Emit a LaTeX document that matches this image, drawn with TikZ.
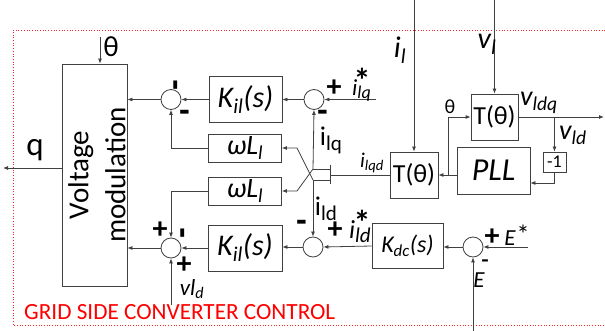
\documentclass[tikz,border=0pt]{standalone}
\usepackage{fontspec}
\setmainfont{Carlito}
\usetikzlibrary{arrows.meta}
\definecolor{lc}{HTML}{404040}
\newcommand{\bigsub}[2]{#1{\fontsize{21}{23}\selectfont\raisebox{-5pt}{#2}}}
\newcommand{\subsz}[4]{#1{\fontsize{#3}{#3}\selectfont\raisebox{-#4}{#2}}}
\newcommand{\msign}{\scalebox{0.72}[1.4]{−}}
\begin{document}
\begin{tikzpicture}[x=1pt,y=-1pt,
  blk/.style={draw=lc, line width=0.8pt, inner sep=0pt},
  sumc/.style={circle, draw=lc, line width=0.8pt, minimum size=20pt, inner sep=0pt},
  arr/.style={draw=lc, line width=0.8pt, -{Latex[length=5pt,width=4pt]}},
  ln/.style={draw=lc, line width=0.8pt},
  lbl/.style={inner sep=0pt, font=\fontsize{23}{25}\selectfont},
  sml/.style={inner sep=0pt, font=\fontsize{21}{23}\selectfont},
  sgn/.style={inner sep=0pt, font=\fontsize{30}{32}\selectfont\bfseries},
  vsgn/.style={sgn, rotate=90},
  ast/.style={inner sep=0pt, font=\fontsize{34}{36}\selectfont\bfseries},
]
\useasboundingbox (0,0) rectangle (605,331);
% frame
\draw[red!85!white, dotted, line width=0.7pt] (605,30) -- (13,30) -- (13,325) -- (605,325);
\node[anchor=west, inner sep=0pt, text=red, font=\fontsize{23.2}{25}\selectfont] (title) at (24,312) {GRID SIDE CONVERTER CONTROL};

% blocks
\node[blk, minimum width=65pt, minimum height=222pt] (vm) at (94.5,175) {};
\node[rotate=90, align=center, inner sep=0pt, font=\fontsize{29}{37}\selectfont] (vmt) at (97,175) {Voltage\\modulation};
\node[sumc] (s1) at (171,99.5) {};
\node[blk, minimum width=73pt, minimum height=46pt, font=\fontsize{30}{32}\selectfont] (k1) at (245.5,99.5) {\textit{K\textsubscript{il}(s)}};
\node[sumc] (s2) at (314,99.5) {};
\node[blk, minimum width=73pt, minimum height=28pt, font=\fontsize{28}{30}\selectfont] (w1) at (245,148) {\textit{ωL\textsubscript{l}}};
\node[blk, minimum width=73pt, minimum height=28pt, font=\fontsize{28}{30}\selectfont] (w2) at (245,191) {\textit{ωL\textsubscript{l}}};
\node[sumc] (s3) at (171,248) {};
\node[blk, minimum width=74pt, minimum height=46pt, font=\fontsize{30}{32}\selectfont] (k2) at (245,248) {\textit{K\textsubscript{il}(s)}};
\node[sumc] (s4) at (313,247) {};
\node[blk, minimum width=71pt, minimum height=45pt, font=\fontsize{24}{26}\selectfont] (kdc) at (407.5,246) {\textit{K\textsubscript{dc}(s)}};
\node[sumc] (s5) at (473,247) {};
\node[blk, minimum width=48pt, minimum height=46pt, font=\fontsize{26}{28}\selectfont] (t1) at (414,175) {T(θ)};
\node[blk, minimum width=47pt, minimum height=46pt, font=\fontsize{26}{28}\selectfont] (t2) at (494.5,117) {T(θ)};
\node[blk, minimum width=73pt, minimum height=47pt, font=\fontsize{32}{34}\selectfont] (pll) at (493.5,170.5) {\textit{PLL}};
\node[blk, minimum width=23pt, minimum height=20pt, font=\fontsize{18}{20}\selectfont] (m1) at (554.5,162) {-1};

% free ends and bends
\coordinate (th) at (100,37);
\coordinate (qo) at (3,168);
\coordinate (iqs) at (376,99.5);
\coordinate (vld) at (171,305);
\coordinate (es) at (528,247);
\coordinate (eb) at (473,331);
\coordinate (il) at (414,0);
\coordinate (vl) at (494.5,0);
\coordinate (vout) at (604,117);
\coordinate (br) at (554.5,117);
\coordinate (pc) at (554.5,183);
\coordinate (tb) at (448,175);
\coordinate (sq) at (313,169);
\coordinate (sd) at (313,180);
\coordinate (sqe) at (330,169);
\coordinate (sde) at (330,180);
\coordinate (bt) at (330,165);
\coordinate (bb) at (330,184);
\coordinate (bm) at (330,175);
\coordinate (d1) at (297,148);
\coordinate (d2) at (297,191);

% connectors
\draw[arr] (th) -- (th |- vm.north);
\draw[arr] (vm.west |- qo) -- (qo);
\draw[arr] (s1.west) -- (vm.east |- s1.west);
\draw[arr] (k1.west) -- (s1.east);
\draw[arr] (s2.west) -- (k1.east);
\draw[arr] (iqs) -- (s2.east);
\draw[arr] (w1.west) -| (s1.south);
\draw[arr] (w2.west) -| (s3.north);
\draw[arr] (k2.west) -- (s3.east);
\draw[arr] (s3.west) -- (vm.east |- s3.west);
\draw[arr] (vld) -- (s3.south);
\draw[arr] (s4.west) -- (k2.east |- s4.west);
\draw[arr] (kdc.west) -- (s4.east);
\draw[arr] (s5.west) -- (kdc.east |- s5.west);
\draw[arr] (es) -- (s5.east);
\draw[arr] (eb) -- (s5.south);
\draw[arr] (sq) -- (s2.south);
\draw[arr] (sd) -- (s4.north);
\draw[ln] (sq) -- (sqe);
\draw[ln] (sd) -- (sde);
\draw[ln] (bt) -- (bb);
\draw[ln] (bm) -- (t1.west);
\draw[arr] (sd) -- (d1) -- (w1.east);
\draw[arr] (sq) -- (d2) -- (w2.east);
\draw[arr] (il) -- (t1.north);
\draw[arr] (vl) -- (t2.north);
\draw[arr] (t2.east) -- (vout);
\draw[arr] (br) -- (m1.north);
\draw[arr] (m1.south) -- (pc) -- (pc -| pll.east);
\draw[arr] (pll.west |- t1.east) -- (t1.east);
\draw[arr] (tb) |- (t2.west);

% labels
\node[inner sep=0pt, font=\fontsize{29}{31}\selectfont] (lth) at (111,47) {θ};
\node[inner sep=0pt, font=\fontsize{33}{35}\selectfont] (lq) at (35,150) {q};
\node[vsgn] (g1) at (181,85) {\msign};
\node[sgn] (g2) at (185,118) {\msign};
\node[sgn] (g3) at (334,88) {+};
\node[anchor=base west, inner sep=0pt, font=\fontsize{23}{25}\selectfont\itshape] (liqs) at (352,96) {\subsz{i}{lq}{18}{3pt}};
\node[ast] (liqa) at (362,80) {*};
\node[sgn] (g4) at (323,118) {\msign};
\node[inner sep=0pt, font=\fontsize{27}{29}\selectfont] (liq) at (331,140) {\bigsub{i}{lq}};
\node[sml] (liqd) at (372,163) {\textit{i\textsubscript{lqd}}};
\node[inner sep=0pt, font=\fontsize{27}{29}\selectfont] (lid) at (326,209) {\bigsub{i}{ld}};
\node[sgn] (g5) at (302,228) {\msign};
\node[sgn] (g6) at (335,230) {+};
\node[anchor=base west, inner sep=0pt, font=\fontsize{26}{28}\selectfont\itshape] (lids) at (349,239) {\subsz{i}{ld}{21}{4pt}};
\node[ast] (lida) at (362,222) {*};
\node[sgn] (g7) at (160,230) {+};
\node[vsgn] (g8) at (188,233) {\msign};
\node[sgn] (g9) at (184,265) {+};
\node[lbl] (lvld) at (192,289) {\textit{vl\textsubscript{d}}};
\node[sgn] (g10) at (492,237) {+};
\node[lbl] (les) at (510,238) {\textit{E}};
\node[ast, font=\fontsize{26}{28}\selectfont] (lesa) at (523,234) {*};
\node[sgn] (g11) at (485,264) {\scalebox{0.5}[0.8]{−}};
\node[lbl] (leb) at (479,280) {\textit{E}};
\node[lbl, font=\fontsize{30}{32}\selectfont] (lil) at (400,50) {\textit{i\textsubscript{l}}};
\node[lbl, font=\fontsize{30}{32}\selectfont] (lvl) at (487,44) {\textit{v\textsubscript{l}}};
\node[lbl, font=\fontsize{28}{30}\selectfont] (lvldq) at (539,103) {\textit{v\textsubscript{ldq}}};
\node[lbl, font=\fontsize{28}{30}\selectfont] (lvld2) at (573,135) {\textit{v\textsubscript{ld}}};
\node[inner sep=0pt, font=\fontsize{20}{22}\selectfont] (lth2) at (450,107) {θ};
\end{tikzpicture}
\end{document}
